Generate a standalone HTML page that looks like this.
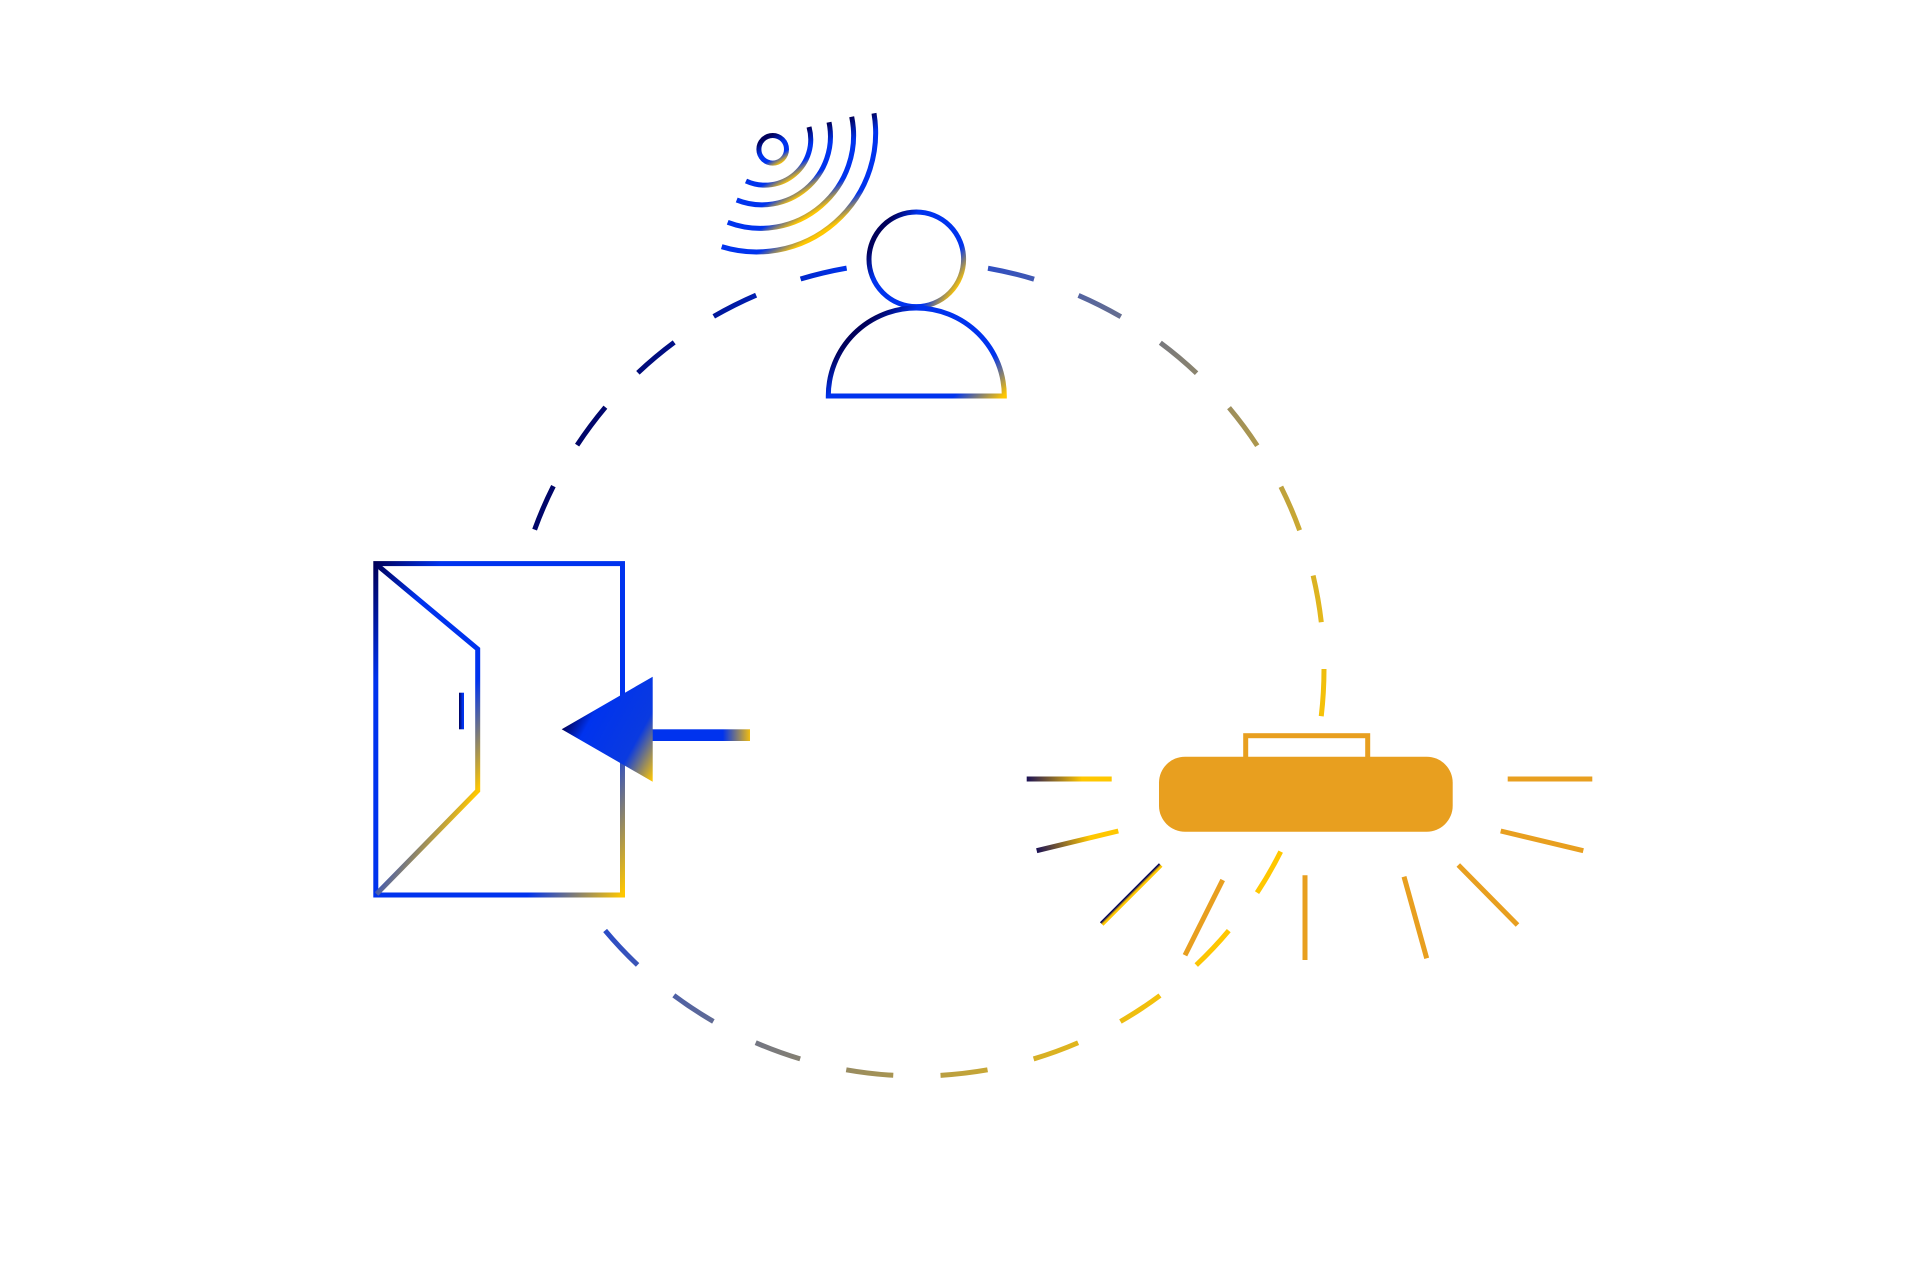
<!DOCTYPE html>
<html><head><meta charset="utf-8"><title>Diagram</title>
<style>html,body{margin:0;padding:0;background:#fff}svg{display:block}</style></head>
<body>
<svg xmlns="http://www.w3.org/2000/svg" width="1920" height="1280" viewBox="0 0 1920 1280">
<defs>
<linearGradient id="gc" gradientUnits="userSpaceOnUse" x1="0" y1="1450" x2="717.5" y2="1848.6"><stop offset="0" stop-color="#00005a"/><stop offset=".207" stop-color="#0033ee"/><stop offset="1" stop-color="#ffc700"/></linearGradient>
<linearGradient id="gb" gradientUnits="userSpaceOnUse" x1="0" y1="1241" x2="328.6" y2="1423.5"><stop offset="0" stop-color="#00005a"/><stop offset=".15" stop-color="#0033ee"/><stop offset=".78" stop-color="#0033ee"/><stop offset="1" stop-color="#ffc700"/></linearGradient>
<linearGradient id="gi" gradientUnits="userSpaceOnUse" x1="0" y1="1241" x2="173.6" y2="1337.5"><stop offset="0" stop-color="#00005a"/><stop offset=".27" stop-color="#0033ee"/><stop offset=".73" stop-color="#0033ee"/><stop offset="1" stop-color="#ffc700"/></linearGradient>
<linearGradient id="ga" gradientUnits="userSpaceOnUse" x1="0" y1="1740" x2="91.3" y2="1790.7"><stop offset="0" stop-color="#00005a"/><stop offset=".2" stop-color="#0033ee"/><stop offset=".68" stop-color="#0a3ae0"/><stop offset="1" stop-color="#ffc700"/></linearGradient>
<linearGradient id="gl" gradientUnits="userSpaceOnUse" x1="653" y1="0" x2="750" y2="0"><stop offset="0" stop-color="#0033ee"/><stop offset=".72" stop-color="#0033ee"/><stop offset="1" stop-color="#f0bc10"/></linearGradient>
<linearGradient id="gs" gradientUnits="userSpaceOnUse" x1="459" y1="0" x2="464" y2="0"><stop offset="0" stop-color="#00005a"/><stop offset=".7" stop-color="#0033ee"/></linearGradient>
<linearGradient id="gh" gradientUnits="userSpaceOnUse" x1="0" y1="1555" x2="78.5" y2="1607.3"><stop offset="0" stop-color="#00005a"/><stop offset=".206" stop-color="#0033ee"/><stop offset=".794" stop-color="#0033ee"/><stop offset="1" stop-color="#ffc700"/></linearGradient>
<linearGradient id="gp" gradientUnits="userSpaceOnUse" x1="0" y1="1190" x2="105" y2="1295"><stop offset="0" stop-color="#00005a"/><stop offset=".167" stop-color="#0033ee"/><stop offset=".762" stop-color="#0033ee"/><stop offset="1" stop-color="#ffc700"/></linearGradient>
<linearGradient id="w4" gradientUnits="userSpaceOnUse" x1="0" y1="637" x2="39.3" y2="702.4"><stop offset="0" stop-color="#00005a"/><stop offset=".225" stop-color="#0033ee"/><stop offset=".8" stop-color="#0033ee"/><stop offset="1" stop-color="#ffc700"/></linearGradient>
<linearGradient id="w3" gradientUnits="userSpaceOnUse" x1="0" y1="628" x2="32.2" y2="681.7"><stop offset="0" stop-color="#00005a"/><stop offset=".33" stop-color="#0033ee"/><stop offset=".78" stop-color="#0033ee"/><stop offset="1" stop-color="#ffc700"/></linearGradient>
<linearGradient id="w2" gradientUnits="userSpaceOnUse" x1="0" y1="620" x2="24.7" y2="661.2"><stop offset="0" stop-color="#00005a"/><stop offset=".36" stop-color="#0033ee"/><stop offset=".77" stop-color="#0033ee"/><stop offset="1" stop-color="#ffc700"/></linearGradient>
<linearGradient id="w1" gradientUnits="userSpaceOnUse" x1="0" y1="612" x2="18.5" y2="642.9"><stop offset="0" stop-color="#00005a"/><stop offset=".43" stop-color="#0033ee"/><stop offset=".71" stop-color="#0033ee"/><stop offset="1" stop-color="#ffc700"/></linearGradient>
<linearGradient id="w0" gradientUnits="userSpaceOnUse" x1="0" y1="598" x2="15" y2="623"><stop offset="0" stop-color="#00005a"/><stop offset=".39" stop-color="#0033ee"/><stop offset=".72" stop-color="#0033ee"/><stop offset="1" stop-color="#ffc700"/></linearGradient>
<linearGradient id="r1" gradientUnits="userSpaceOnUse" x1="1026.7" y1="0" x2="1111.7" y2="0"><stop offset="0" stop-color="#1a1055"/><stop offset=".65" stop-color="#ffc700"/></linearGradient>
<linearGradient id="r2" gradientUnits="userSpaceOnUse" x1="1036.7" y1="850.7" x2="1118.3" y2="831"><stop offset="0" stop-color="#1a1055"/><stop offset=".65" stop-color="#ffc700"/></linearGradient>
<linearGradient id="r3" gradientUnits="userSpaceOnUse" x1="1129.3" y1="892.7" x2="1132.6" y2="896"><stop offset=".2" stop-color="#00005a"/><stop offset=".7" stop-color="#ffc700"/></linearGradient>
</defs>

<circle cx="917" cy="669" r="407" fill="none" stroke="url(#gc)" stroke-width="5" stroke-dasharray="47.36 47.36"/>

<!-- box -->
<rect x="375.8" y="563.6" width="246.7" height="331.4" fill="#fff" stroke="url(#gb)" stroke-width="5"/>
<polyline points="376.5,564.5 477.7,649 477.7,790.7 376.5,894" fill="none" stroke="url(#gi)" stroke-width="5"/>
<rect x="459" y="692.7" width="5" height="36.6" fill="url(#gs)"/>

<!-- arrow -->
<rect x="652" y="729.3" width="98" height="11.7" fill="url(#gl)"/>
<polygon points="561.7,729.3 652.7,676.7 652.7,781.7" fill="url(#ga)"/>

<!-- person -->
<circle cx="916.3" cy="259.3" r="47.3" fill="#fff" stroke="url(#gh)" stroke-width="5"/>
<path d="M828.3 396 A88 88 0 0 1 1004.3 396 Z" fill="#fff" stroke="url(#gp)" stroke-width="5"/>

<!-- waves -->
<circle cx="772.7" cy="149.3" r="13.8" fill="none" stroke="url(#w0)" stroke-width="5"/>
<path d="M809 127 A45.7 45.7 0 0 1 746 181" fill="none" stroke="url(#w1)" stroke-width="5"/>
<path d="M829 122.3 A68.5 68.5 0 0 1 736.7 200" fill="none" stroke="url(#w2)" stroke-width="5"/>
<path d="M851.7 116.7 A93 93 0 0 1 727.7 222.3" fill="none" stroke="url(#w3)" stroke-width="5"/>
<path d="M874 113.3 A119 119 0 0 1 721.7 246.7" fill="none" stroke="url(#w4)" stroke-width="5"/>

<!-- lamp -->
<rect x="1245.7" y="735.7" width="122" height="24" fill="#fff" stroke="#e89f1f" stroke-width="5"/>
<rect x="1159" y="756.7" width="293.7" height="75" rx="26" ry="26" fill="#e89f1f"/>

<!-- rays -->
<g stroke-width="5" fill="none">
<rect x="1026.7" y="776.5" width="85" height="5" fill="url(#r1)" stroke="none"/>
<line x1="1036.7" y1="850.7" x2="1118.3" y2="831" stroke="url(#r2)"/>
<line x1="1101.7" y1="924" x2="1160.7" y2="865" stroke="url(#r3)"/>
<line x1="1222.7" y1="880" x2="1185" y2="955.3" stroke="#e89f1f"/>
<line x1="1305" y1="875.3" x2="1305" y2="960" stroke="#e89f1f"/>
<line x1="1404" y1="876.7" x2="1426.7" y2="958.3" stroke="#e89f1f"/>
<line x1="1458.3" y1="865" x2="1517.5" y2="925" stroke="#e89f1f"/>
<line x1="1500.7" y1="831" x2="1583.3" y2="850.7" stroke="#e89f1f"/>
<line x1="1507.7" y1="779" x2="1592.3" y2="779" stroke="#e89f1f"/>
</g>
</svg>
</body></html>
